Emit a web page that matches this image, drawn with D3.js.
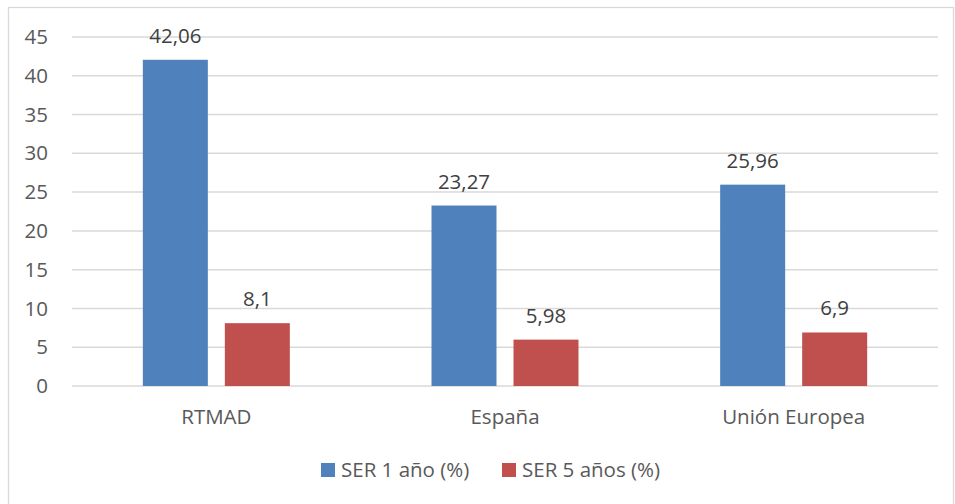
<!DOCTYPE html>
<html>
<head>
<meta charset="utf-8">
<script src="https://cdn.jsdelivr.net/npm/d3@7"></script>
<style>
  body { margin: 0; background: #fff; }
  svg text { font-family: "Open Sans", Lato, sans-serif; }
</style>
</head>
<body>
<div id="chart"></div>
<script>
var categories = ["RTMAD", "España", "Unión Europea"];
var series = ["SER 1 año (%)", "SER 5 años (%)"];
var ser1 = [42.06, 23.27, 25.96];
var ser5 = [8.1, 5.98, 6.9];
var yTicks = [0, 5, 10, 15, 20, 25, 30, 35, 40, 45];
var colors = ["#4f81bd", "#c0504d"];

var width = 955, height = 504,
    margins = {top: 37, right: 17, bottom: 118, left: 72},
    fontSize = 20.5;

var svg = d3.select("#chart").append("svg")
    .attr("width", width)
    .attr("height", height);

// chart frame
svg.append("rect")
    .attr("x", 8.5).attr("y", 7.5)
    .attr("width", 945).attr("height", 505)
    .attr("fill", "none")
    .attr("stroke", "#d9d9d9")
    .attr("stroke-width", 1.3);

var plotW = width - margins.left - margins.right,
    plotH = height - margins.top - margins.bottom;

var g = svg.append("g").attr("transform", "translate(" + margins.left + "," + margins.top + ")");

var x0 = d3.scaleBand().domain(categories).range([0, plotW]);
var x1 = d3.scaleBand().domain(series).range([0, 147]).paddingInner(17 / 82);
var y = d3.scaleLinear().domain([0, 45]).range([plotH, 0]);

// gridlines
g.selectAll("line.grid").data(yTicks).enter().append("line")
    .attr("class", "grid")
    .attr("x1", 0).attr("x2", plotW)
    .attr("y1", function(d) { return y(d); })
    .attr("y2", function(d) { return y(d); })
    .attr("stroke", "#d9d9d9")
    .attr("stroke-width", 1.5);

// y axis labels
var yAxis = d3.axisLeft(y).tickValues(yTicks).tickSize(0).tickPadding(24);
g.append("g").call(yAxis)
    .call(function(a) { a.select(".domain").remove(); })
    .selectAll("text")
    .attr("font-size", fontSize)
    .attr("fill", "#595959")
    .style("font-family", "'Open Sans', Lato, sans-serif");

var rows = categories.map(function(c, i) {
    return {cat: c, vals: [{s: series[0], v: ser1[i], c: colors[0]}, {s: series[1], v: ser5[i], c: colors[1]}]};
});

var groups = g.selectAll("g.cat").data(rows).enter().append("g")
    .attr("class", "cat")
    .attr("transform", function(d) {
        return "translate(" + (x0(d.cat) + x0.bandwidth() / 2 - 73.5) + ",0)";
    });

groups.selectAll("rect").data(function(d) { return d.vals; }).enter().append("rect")
    .attr("x", function(d) { return x1(d.s); })
    .attr("width", x1.bandwidth())
    .attr("y", function(d) { return y(d.v); })
    .attr("height", function(d) { return plotH - y(d.v); })
    .attr("fill", function(d) { return d.c; });

groups.selectAll("text.val").data(function(d) { return d.vals; }).enter().append("text")
    .attr("class", "val")
    .attr("x", function(d) { return x1(d.s) + x1.bandwidth() / 2; })
    .attr("y", function(d) { return y(d.v) - 17; })
    .attr("text-anchor", "middle")
    .attr("font-size", fontSize)
    .attr("fill", "#404040")
    .text(function(d) { return String(d.v).replace(".", ","); });

// x axis
var xAxis = d3.axisBottom(x0).tickSize(0).tickPadding(23);
g.append("g").attr("transform", "translate(0," + plotH + ")").call(xAxis)
    .call(function(a) { a.select(".domain").remove(); })
    .selectAll("text")
    .attr("font-size", fontSize)
    .attr("fill", "#595959")
    .style("font-family", "'Open Sans', Lato, sans-serif");

// legend
var legend = svg.append("g").attr("transform", "translate(321,463)");
var legendX = [0, 181];
series.forEach(function(s, i) {
    var item = legend.append("g").attr("transform", "translate(" + legendX[i] + ",0)");
    item.append("rect").attr("width", 14).attr("height", 14).attr("fill", colors[i]);
    item.append("text")
        .attr("x", 20).attr("y", 14)
        .attr("font-size", fontSize)
        .attr("fill", "#595959")
        .text(s);
});
</script>
</body>
</html>
